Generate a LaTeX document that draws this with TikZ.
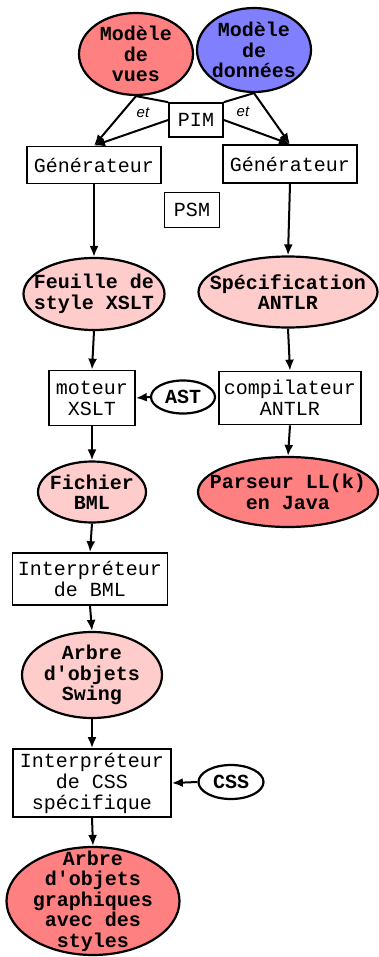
\documentclass[tikz,border=0pt]{standalone}
\usepackage{fontspec}
\setmonofont{Liberation Mono}
\setsansfont{Liberation Sans}
\usepackage{tikz}
\usetikzlibrary{shapes.geometric,arrows.meta}
\definecolor{rouge}{RGB}{255,128,128}
\definecolor{bleu}{RGB}{128,128,255}
\definecolor{rose}{RGB}{255,204,204}
\newcommand{\txtbox}{\fontsize{20}{21}\selectfont\ttfamily}
\newcommand{\txtbulle}{\fontsize{20}{20.5}\selectfont\ttfamily\bfseries}

\begin{document}
\begin{tikzpicture}[x=1pt,y=-1pt,
  boite/.style={draw,line width=1.7pt,fill=white,inner sep=0pt,align=center,font=\txtbox},
  bulle/.style={draw,ellipse,line width=2.2pt,inner sep=0pt,fill=#1},
  etiq/.style={align=center,font=\txtbulle,inner sep=0pt},
  fleche/.style={-{Latex[length=11pt,width=9pt]},line width=2pt},
  trait/.style={line width=2pt},
  et/.style={font=\fontsize{15}{15}\selectfont\sffamily\itshape}]
\useasboundingbox (0,0) rectangle (379,957);
%models
\node[bulle=rouge,minimum width=114pt,minimum height=82pt,label={[etiq]center:{Modèle\\de\\vues}}] (vues) at (136,54) {};
\node[bulle=bleu,minimum width=114pt,minimum height=84pt,label={[etiq]center:{Modèle\\de\\données}}] (donnees) at (254,50) {};
\node[boite,minimum width=54pt,minimum height=34pt] (pim) at (196,120) {PIM};
\node[et] (etA) at (143,113) {et};
\node[et] (etB) at (243,112) {et};
\node[boite,minimum width=134pt,minimum height=37pt] (genA) at (94,165) {Générateur};
\node[boite,minimum width=134pt,minimum height=38pt] (genB) at (290,164) {Générateur};
\node[boite,minimum width=55pt,minimum height=35pt] (psm) at (192,210) {PSM};
\draw[trait] (vues.south) -- (pim.north west);
\draw[trait] (donnees.south) -- (pim.north east);
\draw[fleche] (vues.south) -- (genA.north);
\draw[fleche] (pim.west) -- (genA.north);
\draw[fleche] (donnees.south) -- (genB.north);
\draw[fleche] (pim.east) -- (genB.north);
%left column
\node[bulle=rose,minimum width=141pt,minimum height=72pt,label={[etiq]center:{Feuille de\\style XSLT}}] (feuille) at (94,294) {};
\node[boite,minimum width=86pt,minimum height=55pt] (moteur) at (92,398) {moteur\\XSLT};
\node[bulle=white,minimum width=64pt,minimum height=33pt,label={[etiq]center:AST}] (ast) at (183,397) {};
\node[bulle=rose,minimum width=108pt,minimum height=61pt,label={[etiq]center:{Fichier\\BML}}] (fichier) at (92,492) {};
\node[boite,minimum width=155pt,minimum height=52pt] (interpBML) at (90,579) {Interpréteur\\de BML};
\node[bulle=rose,minimum width=140pt,minimum height=86pt,label={[etiq]center:{Arbre\\d'objets\\Swing}}] (swing) at (92,675) {};
\node[boite,minimum width=158pt,minimum height=68pt] (interpCSS) at (92,783) {Interpréteur\\de CSS\\spécifique};
\node[bulle=white,minimum width=65pt,minimum height=34pt,label={[etiq]center:CSS}] (css) at (231,782) {};
\node[bulle=rouge,minimum width=173pt,minimum height=108pt,label={[etiq]center:{Arbre\\d'objets\\graphiques\\avec des\\styles}}] (arbre) at (93,901) {};
\draw[fleche] (genA.south) -- (feuille.north);
\draw[fleche] (feuille.south) -- (moteur.north);
\draw[fleche] (ast.west) -- (moteur.east);
\draw[fleche] (moteur.south) -- (fichier.north);
\draw[fleche] (fichier.south) -- (interpBML.north);
\draw[fleche] (interpBML.south) -- (swing.north);
\draw[fleche] (swing.south) -- (interpCSS.north);
\draw[fleche] (css.west) -- (interpCSS.east);
\draw[fleche] (interpCSS.south) -- (arbre.north);
%right column
\node[bulle=rose,minimum width=179pt,minimum height=71pt,label={[etiq]center:{Spécification\\ANTLR}}] (spec) at (288,292) {};
\node[boite,minimum width=142pt,minimum height=53pt] (compil) at (290,398) {compilateur\\ANTLR};
\node[bulle=rouge,minimum width=180pt,minimum height=70pt,label={[etiq]center:{Parseur LL(k)\\en Java}}] (parseur) at (288,492) {};
\draw[fleche] (genB.south) -- (spec.north);
\draw[fleche] (spec.south) -- (compil.north);
\draw[fleche] (compil.south) -- (parseur.north);
\end{tikzpicture}
\end{document}
